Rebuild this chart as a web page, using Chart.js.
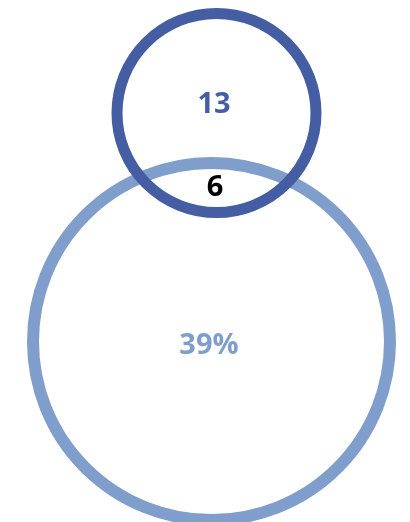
<!DOCTYPE html>
<html>
<head>
<meta charset="utf-8">
<script src="https://cdn.jsdelivr.net/npm/chart.js@4"></script>
<style>
  html, body { margin: 0; padding: 0; background: #fff; }
  #wrap { width: 410px; height: 522px; }
</style>
</head>
<body>
<div id="wrap"><canvas id="venn" width="410" height="522"></canvas></div>
<script>
// sets: small (dark) circle first so it is drawn on top
const setNames = ['Small set', 'Large set'];
const setLabels = ['13', '39%'];
const overlapLabel = '6';
const setX = [216.5, 211.5];
const setY = [113, 341.5];
const setR = [99.5, 178.5];
const labelX = [214, 209];
const labelY = [105, 346];
const overlapX = 215;
const overlapY = 188;

const darkBlue = '#445da3';
const lightBlue = '#809ecb';
const colors = [darkBlue, lightBlue];
const strokes = [11, 12];

const labelPlugin = {
  id: 'vennLabels',
  afterDatasetsDraw(chart) {
    const { ctx, scales } = chart;
    ctx.save();
    ctx.font = 'bold 29px "Open Sans"';
    ctx.textAlign = 'center';
    ctx.textBaseline = 'middle';
    setLabels.forEach((txt, i) => {
      ctx.fillStyle = colors[i];
      ctx.fillText(txt, scales.x.getPixelForValue(labelX[i]), scales.y.getPixelForValue(labelY[i]));
    });
    ctx.fillStyle = '#000';
    ctx.fillText(overlapLabel, scales.x.getPixelForValue(overlapX), scales.y.getPixelForValue(overlapY));
    ctx.restore();
  }
};

new Chart(document.getElementById('venn'), {
  type: 'bubble',
  data: {
    datasets: setNames.map((name, i) => ({
      label: name,
      data: [{ x: setX[i], y: setY[i], r: setR[i] }],
      backgroundColor: 'rgba(0,0,0,0)',
      borderColor: colors[i],
      borderWidth: strokes[i],
      hoverBorderWidth: strokes[i],
      hoverRadius: 0,
      clip: false
    }))
  },
  options: {
    responsive: false,
    animation: false,
    events: [],
    layout: { padding: 0, autoPadding: false },
    scales: {
      x: { type: 'linear', min: 0, max: 410, display: false },
      y: { type: 'linear', min: 0, max: 522, reverse: true, display: false }
    },
    plugins: {
      legend: { display: false },
      tooltip: { enabled: false }
    }
  },
  plugins: [labelPlugin]
});
</script>
</body>
</html>
